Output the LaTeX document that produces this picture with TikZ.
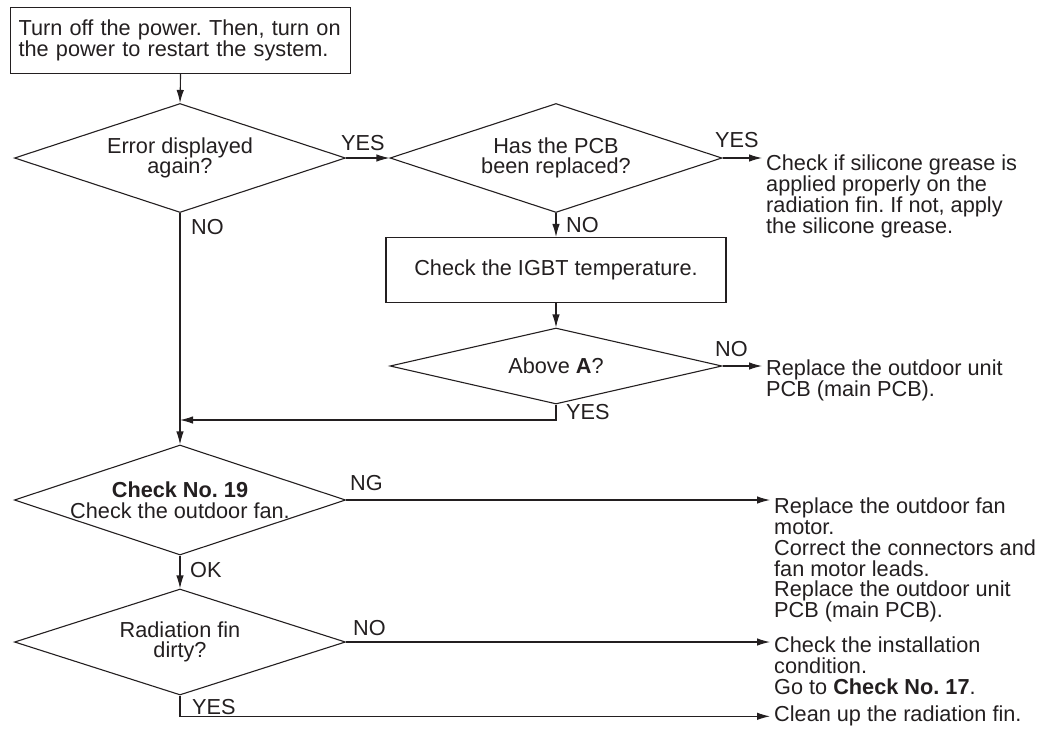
\documentclass[tikz,border=0pt]{standalone}
\usepackage{fontspec}
\setmainfont{Liberation Sans}
\usetikzlibrary{arrows.meta, shapes.geometric}
\definecolor{ink}{RGB}{35,31,32}
\frenchspacing

\tikzset{
  flow/.style={ink, line width=1.1pt, -{Latex[length=13pt,width=7.5pt]}},
  decision/.style={diamond, draw=ink, line width=1.1pt, inner sep=0pt, align=center,
    shape aspect=3.05, minimum width=331pt, minimum height=109pt},
  stepbox/.style={rectangle, draw=ink, line width=1.1pt, inner sep=0pt, align=center},
  outcome/.style={anchor=north west, align=left, inner sep=0pt},
  tag/.style={anchor=west, inner sep=0pt}
}

\begin{document}
\begin{tikzpicture}[x=1pt,y=-1pt,
    every node/.style={text=ink, font=\fontsize{21.7}{20.7}\selectfont}]
			\useasboundingbox (0,0) rectangle (1041,734);
			% steps and decisions
			\node[stepbox, anchor=north west, align=left, text width=324pt, inner xsep=8pt,
			  minimum height=66pt] (start) at (10,7)
			  {Turn off the power. Then, turn on\\the power to restart the system.};
			\node[decision] (d1) at (180,158) {Error displayed\\again?};
			\node[decision, minimum width=332pt] (d2) at (556,158) {Has the PCB\\been replaced?};
			\node[stepbox, minimum width=340pt, minimum height=65pt] (igbt) at (556,270)
			  {Check the IGBT temperature.};
			\node[decision, minimum width=332pt, minimum height=76pt, shape aspect=4.4] (d3)
			  at (556,366) {Above \textbf{A}?};
			\node[decision, minimum height=110pt] (d4) at (180,500)
			  {\textbf{Check No. 19}\\Check the outdoor fan.};
			\node[decision, minimum height=106pt] (d5) at (180,642) {Radiation fin\\dirty?};
			% outcomes
			\node[outcome] (r1) at (766,155) {Check if silicone grease is\\applied properly on the\\radiation fin. If not, apply\\the silicone grease.};
			\node[outcome] (r2) at (766,360) {Replace the outdoor unit\\PCB (main PCB).};
			\node[outcome] (r3) at (774,498) {Replace the outdoor fan\\motor.\\Correct the connectors and\\fan motor leads.\\Replace the outdoor unit\\PCB (main PCB).};
			\node[outcome] (r4) at (774,637) {Check the installation\\condition.\\Go to \textbf{Check No. 17}.};
			\node[outcome] (r5) at (774,706) {Clean up the radiation fin.};
			\coordinate (join) at (180,420);
			% connectors
			\draw[flow] (start.south) -- (d1.north);
			\draw[flow] (d1.east) -- (d2.west);
			\draw[flow, shorten >=4pt] (d2.east) -- (d2.east -| r1.west);
			\draw[flow] (d2.south) -- (igbt.north);
			\draw[flow] (igbt.south) -- (d3.north);
			\draw[flow, shorten >=4pt] (d3.east) -- (d3.east -| r2.west);
			\draw[flow] (d3.south) |- (join);
			\draw[flow] (d1.south) -- (d4.north);
			\draw[flow, shorten >=4pt] (d4.east) -- (d4.east -| r3.west);
			\draw[flow] (d4.south) -- (d5.north);
			\draw[flow, shorten >=4pt] (d5.east) -- (d5.east -| r4.west);
			\draw[flow, shorten >=4pt] (d5.south) |- (r5.west);
			% branch labels
			\node[tag] (yes1) at (341,143) {YES};
			\node[tag] (yes2) at (715,140) {YES};
			\node[tag] (no2) at (566,225) {NO};
			\node[tag] (no3) at (715,349) {NO};
			\node[tag] (yes3) at (566,412) {YES};
			\node[tag] (no1) at (191,227) {NO};
			\node[tag] (ng4) at (350,483) {NG};
			\node[tag] (ok4) at (190,570) {OK};
			\node[tag] (no5) at (353,628) {NO};
			\node[tag] (yes5) at (192,707) {YES};
		\end{tikzpicture}
\end{document}
